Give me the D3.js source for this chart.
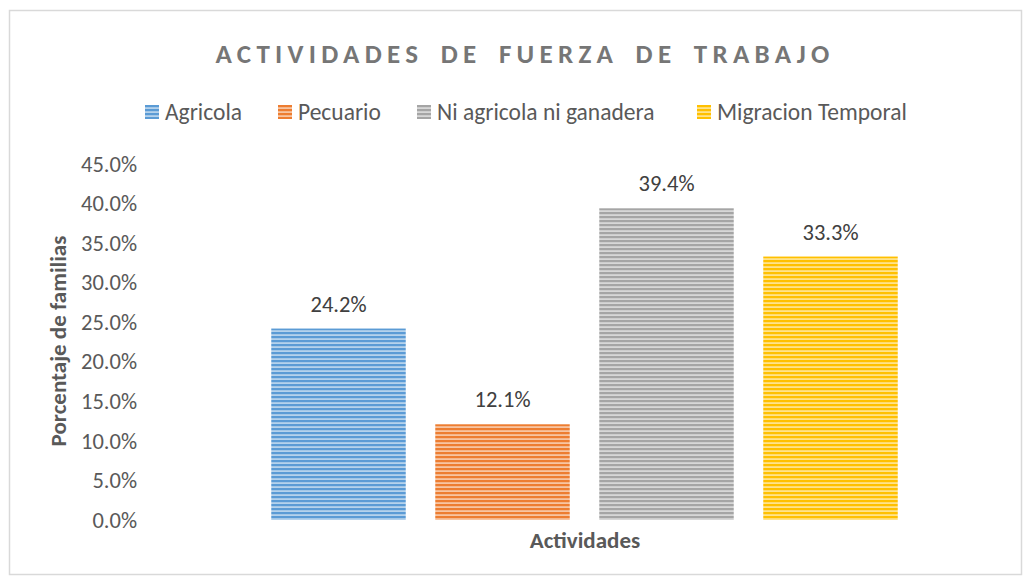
<!DOCTYPE html>
<html lang="es">
<head>
<meta charset="UTF-8">
<title>Actividades de fuerza de trabajo</title>
<script src="https://d3js.org/d3.v7.min.js"></script>
<style>
  body { margin: 0; background: #fff; }
  svg text { font-family: Carlito, Lato, "Open Sans", sans-serif; }
</style>
</head>
<body>
<svg id="chart" width="1026" height="581"></svg>
<script>
    const series = ["Agricola", "Pecuario", "Ni agricola ni ganadera", "Migracion Temporal"];
    const values = [24.2, 12.1, 39.4, 33.3];
    const colors = ["#5b9bd5", "#ed7d31", "#a5a5a5", "#ffc000"];
    const yTicks = [0, 5, 10, 15, 20, 25, 30, 35, 40, 45];

    const svg = d3.select("#chart");
    const textColor = "#595959";

    // marco del grafico
    svg.append("rect")
        .attr("x", 9.5).attr("y", 10.5)
        .attr("width", 1012).attr("height", 564)
        .attr("fill", "#fff")
        .attr("stroke", "#d9d9d9").attr("stroke-width", 1.5);

    // patrones de rayas horizontales
    const defs = svg.append("defs");
    colors.forEach((c, i) => {
        const p = defs.append("pattern")
            .attr("id", "stripe" + i)
            .attr("patternUnits", "userSpaceOnUse")
            .attr("width", 8).attr("height", 4);
        p.append("rect").attr("width", 8).attr("height", 4)
            .attr("fill", d3.interpolateRgb(c, "#fff")(0.55));
        p.append("rect").attr("width", 8).attr("height", 2.2)
            .attr("fill", c);
    });

    const x = d3.scaleBand()
        .domain(series)
        .range([256.5, 912.5])
        .paddingInner(0.18)
        .paddingOuter(0.09);

    const y = d3.scaleLinear()
        .domain([0, 45])
        .range([520, 164]);

    // titulo
    svg.append("text")
        .attr("x", 525).attr("y", 63)
        .attr("text-anchor", "middle")
        .attr("font-size", 27).attr("font-weight", "bold")
        .attr("letter-spacing", 5.3)
        .attr("word-spacing", 6)
        .attr("fill", "#767676")
        .text("ACTIVIDADES DE FUERZA DE TRABAJO");

    // leyenda
    const legendX = [145, 278, 417, 697];
    const legend = svg.append("g").selectAll("g")
        .data(series)
        .enter().append("g")
        .attr("transform", (d, i) => `translate(${legendX[i]},105)`);
    legend.append("rect")
        .attr("x", 0).attr("y", 0)
        .attr("width", 14).attr("height", 14)
        .attr("fill", (d, i) => `url(#stripe${i})`);
    legend.append("text")
        .attr("x", 20).attr("y", 15)
        .attr("font-size", 23.5)
        .attr("fill", textColor)
        .text(d => d);

    // eje y
    const yAxis = svg.append("g")
        .attr("transform", "translate(139,0)")
        .call(d3.axisLeft(y).tickValues(yTicks).tickSize(0).tickPadding(2)
            .tickFormat(d => d.toFixed(1) + "%"));
    yAxis.select(".domain").remove();
    yAxis.selectAll("text")
        .attr("font-size", 22.5)
        .attr("fill", textColor);

    // barras
    svg.append("g").selectAll("rect")
        .data(values)
        .enter().append("rect")
        .attr("x", (d, i) => x(series[i]))
        .attr("y", d => y(d))
        .attr("width", x.bandwidth())
        .attr("height", d => y(0) - y(d))
        .attr("fill", (d, i) => `url(#stripe${i})`);

    // etiquetas de datos
    svg.append("g").selectAll("text")
        .data(values)
        .enter().append("text")
        .attr("x", (d, i) => x(series[i]) + x.bandwidth() / 2)
        .attr("y", d => y(d) - 17)
        .attr("text-anchor", "middle")
        .attr("font-size", 22.5)
        .attr("fill", "#404040")
        .text(d => d.toFixed(1) + "%");

    // titulos de ejes
    svg.append("text")
        .attr("x", 585).attr("y", 548)
        .attr("text-anchor", "middle")
        .attr("font-size", 23).attr("font-weight", "bold")
        .attr("fill", textColor)
        .text("Actividades");

    svg.append("text")
        .attr("transform", "translate(66,341) rotate(-90)")
        .attr("text-anchor", "middle")
        .attr("font-size", 23).attr("font-weight", "bold")
        .attr("fill", textColor)
        .text("Porcentaje de familias");
</script>
</body>
</html>
